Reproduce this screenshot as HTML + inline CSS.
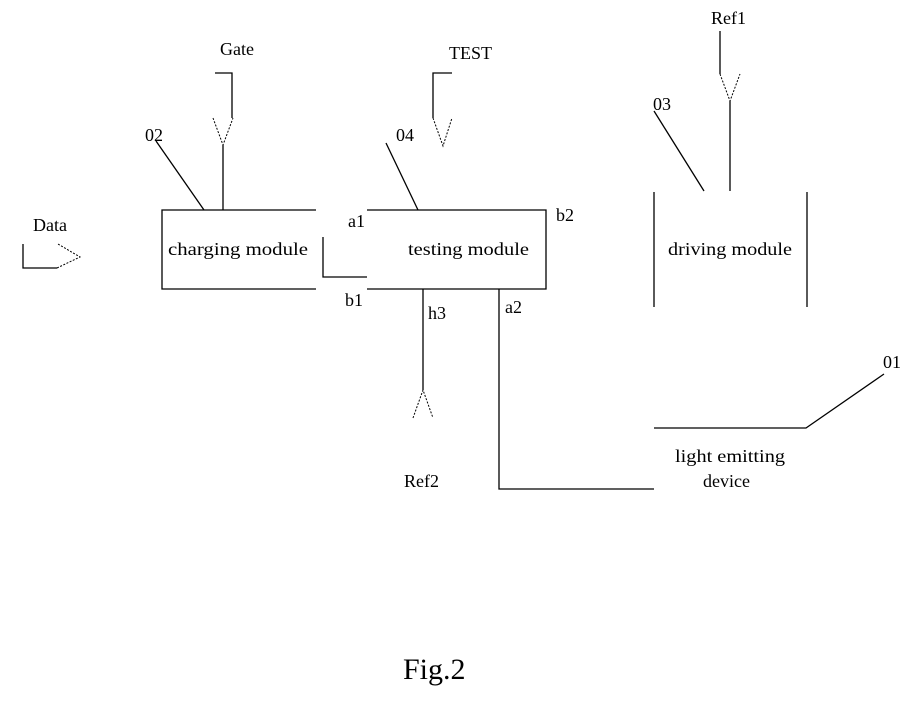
<!DOCTYPE html>
<html><head><meta charset="utf-8"><style>
html,body{margin:0;padding:0;background:#fff;}
svg{display:block;}
text{font-family:"Liberation Serif",serif;font-size:18px;fill:#000;}
</style></head><body>
<svg width="921" height="709" viewBox="0 0 921 709" xmlns="http://www.w3.org/2000/svg">
<g stroke="#000" stroke-width="1.3" fill="none">
<polyline points="316,210 162,210 162,289 316,289"/>
<polyline points="367,210 546,210 546,289 367,289"/>
<polyline points="323,237 323,277 367,277"/>
<polyline points="215,73 232,73 232,118"/>
<line x1="223" y1="145" x2="223" y2="210"/>
<line x1="156" y1="141" x2="204" y2="210"/>
<polyline points="452,73 433,73 433,118"/>
<line x1="386" y1="143" x2="418" y2="210"/>
<polyline points="23,244 23,268 57,268"/>
<line x1="423" y1="289" x2="423" y2="390"/>
<polyline points="499,289 499,489 654,489"/>
<polyline points="654,428 806,428 884,374"/>
<line x1="654" y1="192" x2="654" y2="307"/>
<line x1="807" y1="192" x2="807" y2="307"/>
<line x1="654" y1="111" x2="704" y2="191"/>
<line x1="720" y1="31" x2="720" y2="74"/>
<line x1="730" y1="101" x2="730" y2="191"/>
</g>
<g stroke="#000" stroke-width="1" fill="none" stroke-dasharray="2,1.5">
<polyline points="213,118 223,145 233,118"/>
<polyline points="433,118 443,146 452,118"/>
<polyline points="57,268 80,257 58,244"/>
<polyline points="413,418 423,390 433,418"/>
<polyline points="720,74 730,101 740,74"/>
</g>
<text x="220" y="55">Gate</text>
<text x="449" y="59">TEST</text>
<text x="711" y="24">Ref1</text>
<text x="145" y="141">02</text>
<text x="396" y="141">04</text>
<text x="653" y="110">03</text>
<text x="33" y="231">Data</text>
<text x="168" y="255" textLength="140" lengthAdjust="spacingAndGlyphs">charging module</text>
<text x="408" y="255" textLength="121" lengthAdjust="spacingAndGlyphs">testing module</text>
<text x="668" y="255" textLength="124" lengthAdjust="spacingAndGlyphs">driving module</text>
<text x="348" y="227">a1</text>
<text x="556" y="221">b2</text>
<text x="345" y="306">b1</text>
<text x="428" y="319">h3</text>
<text x="505" y="313">a2</text>
<text x="404" y="487">Ref2</text>
<text x="883" y="368">01</text>
<text x="675" y="462" textLength="110" lengthAdjust="spacingAndGlyphs">light emitting</text>
<text x="703" y="487">device</text>
<text x="403" y="679" style="font-size:30px">Fig.2</text>
</svg>
</body></html>
